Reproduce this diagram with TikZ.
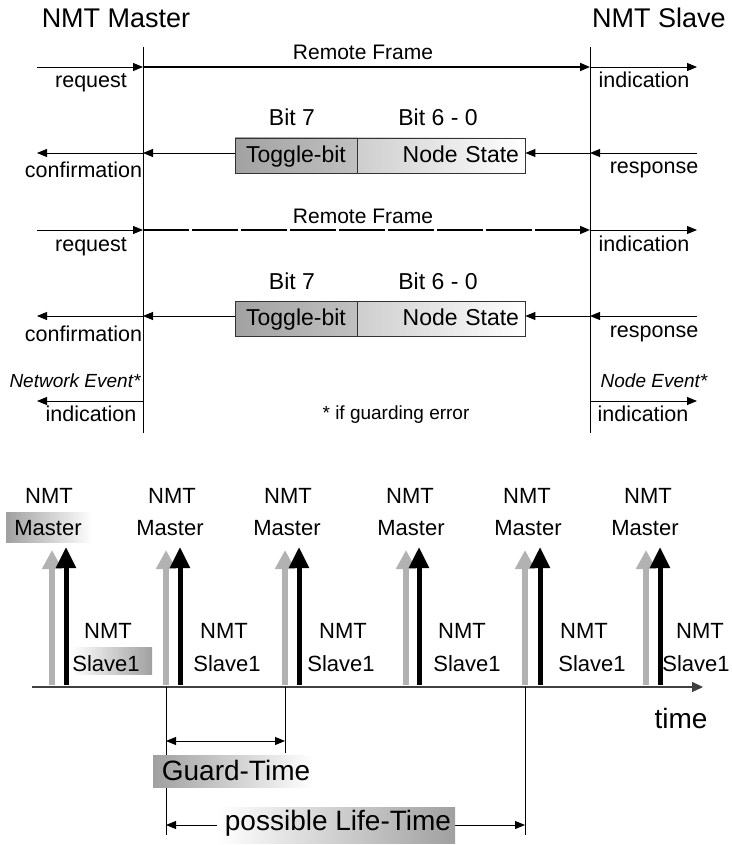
\documentclass[tikz,border=0pt]{standalone}
\usepackage{fontspec}
\setmainfont{Liberation Sans}
\usetikzlibrary{arrows.meta}
\definecolor{barg}{HTML}{B2B2B2}
\definecolor{tgl}{HTML}{A2A2A2}
\definecolor{tgr}{HTML}{C0C0C0}
\definecolor{nsl}{HTML}{CECECE}
\definecolor{lblg}{HTML}{A0A0A0}
\definecolor{axc}{HTML}{404040}
\begin{document}
\begin{tikzpicture}[x=1pt,y=-1pt,
  txt/.style={inner sep=0pt, anchor=base, font=\fontsize{#1}{#1}\selectfont},
  arr/.style={line width=0.9pt, -{Triangle[length=10pt,width=8pt]}},
  darr/.style={line width=0.9pt, {Triangle[length=10pt,width=8pt]}-{Triangle[length=10pt,width=8pt]}},
  cellbox/.style={draw=black!80, line width=0.8pt, minimum height=35pt, inner xsep=6pt, inner ysep=0pt,
     text height=17pt, text depth=3pt, font=\fontsize{23}{23}\selectfont},
  garr/.style={draw=barg, line width=6pt, -{Triangle[length=19pt,width=19pt]}},
  barr/.style={draw=black, line width=5pt, -{Triangle[length=21pt,width=19pt]}},
  axisline/.style={draw=axc, line width=1.2pt, -{Triangle[length=11pt,width=10pt]}},
  tick/.style={draw=black, line width=0.8pt}]
\useasboundingbox (0,0) rectangle (731,845);
\fill[white] (0,0) rectangle (731,845);

% headings
\node[txt=27] (hm) at (116,28) {NMT Master};
\node[txt=27] (hs) at (659,28) {NMT Slave};

% life lines
\coordinate (mT) at (143,47); \coordinate (mB) at (143,433);
\coordinate (sT) at (590,47); \coordinate (sB) at (590,433);
\draw[line width=0.9pt] (mT) -- (mB);
\draw[line width=0.9pt] (sT) -- (sB);

% ---------- row 1 : remote frame
\coordinate (a1) at (37,67); \coordinate (m1) at (143,67);
\coordinate (s1) at (590,67); \coordinate (b1) at (697,67);
\draw[arr] (a1) -- (m1);
\draw[arr, line width=1.8pt] (m1) -- (s1);
\draw[arr] (s1) -- (b1);
\node[txt=21] (rf1) at (363,60) {Remote Frame};
\node[txt=21.5] (rq1) at (91,88) {request};
\node[txt=21.5] (in1) at (644,88) {indication};

% ---------- row 2 : response
\node[txt=23] (b7a) at (292,126) {Bit 7};
\node[txt=23] (b6a) at (438,126) {Bit 6 - 0};
\node[cellbox, left color=tgl, right color=tgr, minimum width=122pt] (tb1) at (296,155.5) {Toggle-bit};
\node[cellbox, left color=nsl, right color=white, minimum width=168pt, text width=156pt, align=right] (ns1) at (441,155.5) {Node State};
\coordinate (a2) at (37,153); \coordinate (m2) at (143,153);
\coordinate (s2) at (590,153); \coordinate (b2) at (697,153);
\draw[arr] (b2) -- (s2);
\draw[arr] (s2) -- (ns1.east |- s2);
\draw[arr] (tb1.west |- m2) -- (m2);
\draw[arr] (m2) -- (a2);
\node[txt=21.5] (cf1) at (83.5,178) {confirmation};
\node[txt=21.5] (rs1) at (654,174) {response};

% ---------- row 3 : remote frame (dashed)
\coordinate (a3) at (37,230); \coordinate (m3) at (143,230);
\coordinate (s3) at (590,230); \coordinate (b3) at (697,230);
\draw[arr] (a3) -- (m3);
\draw[arr, line width=1.6pt, dash pattern=on 46pt off 3pt] (m3) -- (s3);
\draw[arr] (s3) -- (b3);
\node[txt=21] (rf2) at (363,223) {Remote Frame};
\node[txt=21.5] (rq2) at (91,251) {request};
\node[txt=21.5] (in2) at (644,251) {indication};

% ---------- row 4 : response
\node[txt=23] (b7b) at (292,289) {Bit 7};
\node[txt=23] (b6b) at (438,289) {Bit 6 - 0};
\node[cellbox, left color=tgl, right color=tgr, minimum width=122pt] (tb2) at (296,318.5) {Toggle-bit};
\node[cellbox, left color=nsl, right color=white, minimum width=168pt, text width=156pt, align=right] (ns2) at (441,318.5) {Node State};
\coordinate (a4) at (37,316); \coordinate (m4) at (143,316);
\coordinate (s4) at (590,316); \coordinate (b4) at (697,316);
\draw[arr] (b4) -- (s4);
\draw[arr] (s4) -- (ns2.east |- s4);
\draw[arr] (tb2.west |- m4) -- (m4);
\draw[arr] (m4) -- (a4);
\node[txt=21.5] (cf2) at (83.5,341) {confirmation};
\node[txt=21.5] (rs2) at (654,337) {response};

% ---------- row 5 : events
\coordinate (a5) at (37,401); \coordinate (m5) at (143,401);
\coordinate (s5) at (590,401); \coordinate (b5) at (697,401);
\draw[arr] (m5) -- (a5);
\draw[arr] (s5) -- (b5);
\node[txt=19, font=\fontsize{19}{19}\selectfont\itshape] (ne) at (75,387) {Network Event*};
\node[txt=19, font=\fontsize{19}{19}\selectfont\itshape] (nd) at (654,387) {Node Event*};
\node[txt=21.5] (in3) at (91,421) {indication};
\node[txt=21.5] (in4) at (643,421) {indication};
\node[txt=19] (ge) at (396,419) {* if guarding error};

% ================= bottom: timing
\shade[left color=lblg, right color=white] (6,512) rectangle (92,542);
\shade[left color=white, right color=lblg] (72,647) rectangle (152,674);

\foreach \mx/\sx [count=\i] in {49/108,172/224,288/343,410/462,527/584,648/700} {
  \node[txt=22] (mn\i) at (\mx,503) {NMT};
  \node[txt=22] (sn\i) at (\sx,638) {NMT};
}
\foreach \mx/\sx [count=\i] in {48/106,170/227,287/341,411/467,528/592,645/696} {
  \node[txt=22] (mm\i) at (\mx,535) {Master};
  \node[txt=22] (ss\i) at (\sx,671) {Slave1};
}

\foreach \g/\b [count=\i] in {52/66,166/180,285/299,406/419,525/540,646/660} {
  \coordinate (gb\i) at (\g,685); \coordinate (gt\i) at (\g,550);
  \coordinate (kb\i) at (\b,685); \coordinate (kt\i) at (\b,547);
  \draw[garr] (gb\i) -- (gt\i);
  \draw[barr] (kb\i) -- (kt\i);
}

\coordinate (ax0) at (32,687); \coordinate (ax1) at (703,687);
\draw[axisline] (ax0) -- (ax1);
\node[txt=28] (tm) at (681,728) {time};

\coordinate (t1a) at (166,687); \coordinate (t1b) at (166,835);
\coordinate (t2a) at (285,687); \coordinate (t2b) at (285,753);
\coordinate (t3a) at (525,687); \coordinate (t3b) at (525,835);
\draw[tick] (t1a) -- (t1b);
\draw[tick] (t2a) -- (t2b);
\draw[tick] (t3a) -- (t3b);

\coordinate (ga) at (166,741); \coordinate (gb) at (285,741);
\draw[darr] (ga) -- (gb);
\shade[left color=lblg, right color=white] (153,755) rectangle (313,787);
\node[txt=28] (gt) at (236,780) {Guard-Time};

\coordinate (la) at (166,825); \coordinate (lb) at (525,825);
\draw[darr] (la) -- (lb);
\shade[left color=white, right color=lblg] (217,807) rectangle (455,843);
\node[txt=28] (lt) at (338,830) {possible Life-Time};
\end{tikzpicture}
\end{document}
